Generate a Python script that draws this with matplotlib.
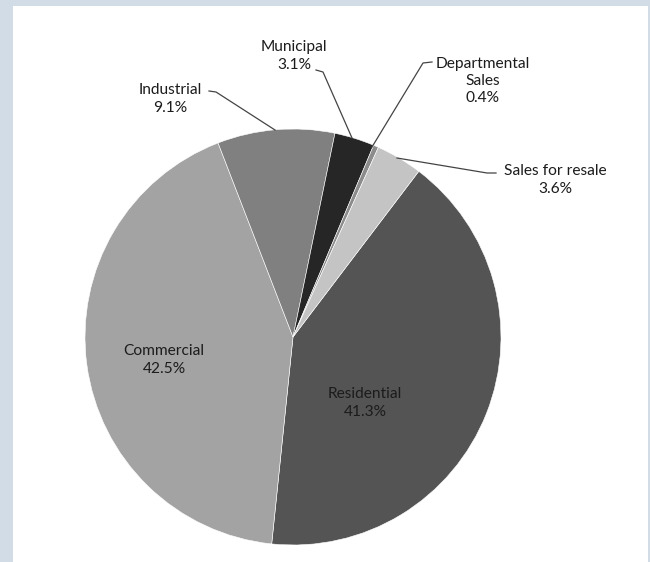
import matplotlib.pyplot as plt
from matplotlib.patches import Rectangle

# slices, clockwise from the top-right
categories = ["Residential", "Commercial", "Industrial", "Municipal",
              "Departmental\nSales", "Sales for resale"]
shares = [41.3, 42.5, 9.1, 3.1, 0.4, 3.6]
colors = ["#545454", "#a3a3a3", "#808080", "#262626", "#8c8c8c", "#c4c4c4"]

W, H = 650, 562
plt.rcParams['font.family'] = ['Lato', 'DejaVu Sans']


def py(y):
    # image pixel row -> data y
    return H - y


fig = plt.figure(figsize=(6.5, 5.62), dpi=100, facecolor="#d2dce7")
ax = fig.add_axes([0, 0, 1, 1])
ax.add_patch(Rectangle((13, 0), 648 - 13, py(6), facecolor="white",
                       edgecolor="none", zorder=0))

ax.pie(shares, colors=colors, startangle=90 - 37.2, counterclock=False,
       center=(293, py(337)), radius=208,
       wedgeprops=dict(edgecolor="white", linewidth=0.4))

ax.set_xlim(0, W)
ax.set_ylim(0, H)
ax.set_aspect("equal")
ax.axis("off")

labels = [f"{c}\n{s:.1f}%" for c, s in zip(categories, shares)]
label_pos = [(365, 403), (164, 360), (170, 99), (294, 56), (483, 81), (555, 180)]
for txt, (x, y) in zip(labels, label_pos):
    ax.text(x, py(y), txt, ha="center", va="center", fontsize=11.2,
            color="#1c1c1c", linespacing=1.3)

# leader lines
leaders = [
    [(209, 91), (216, 92), (275, 130)],
    [(316, 70), (323, 72), (352, 138)],
    [(432, 62), (423, 63), (372, 147)],
    [(496, 173), (487, 173), (397, 158)],
]
for pts in leaders:
    ax.plot([p[0] for p in pts], [py(p[1]) for p in pts], color="#444444",
            linewidth=0.9)

fig.savefig("out.png", dpi=100, facecolor=fig.get_facecolor())
